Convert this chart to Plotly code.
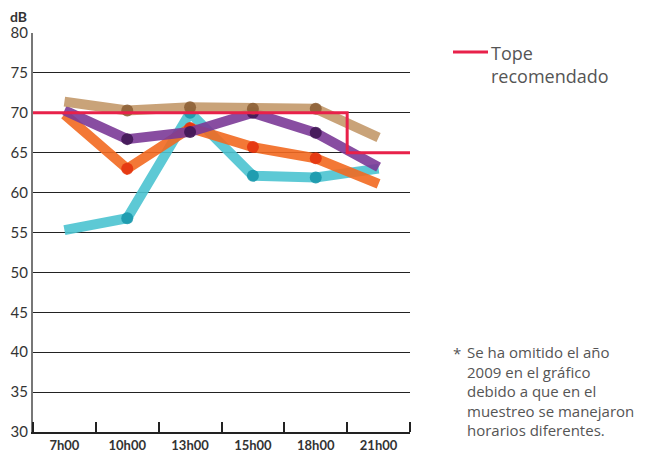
import plotly.graph_objects as go

# horas del muestreo
horas = ["7h00", "10h00", "13h00", "15h00", "18h00", "21h00"]

# niveles de ruido (dB) por serie
serie_tan = [71.4, 70.3, 70.7, 70.5, 70.5, 66.9]
serie_morado = [70.3, 66.7, 67.6, 70.0, 67.5, 63.2]
serie_naranja = [69.8, 63.0, 68.1, 65.7, 64.3, 61.1]
serie_celeste = [55.3, 56.8, 70.0, 62.1, 61.9, 63.0]

# tope recomendado (escalon entre 18h00 y 21h00)
tope_x = [-0.5, 4.5, 4.5, 5.5]
tope_y = [70, 70, 65, 65]

nota = ("Se ha omitido el año<br>2009 en el gráfico<br>debido a que en el"
        "<br>muestreo se manejaron<br>horarios diferentes.")

series = [
    (serie_celeste, "#4cc4d1", "#1696aa"),
    (serie_naranja, "#f26a21", "#e4300c"),
    (serie_morado, "#7c3a97", "#3d1452"),
    (serie_tan, "#c49a6b", "#8a5d33"),
]

# la pagina tiene 8px de margen en el body, se compensa aqui
W, H = 638, 444
L, R, T, B = 25, 236, 25, 20
PW, PH = W - L - R, H - T - B


def px(x):
    return (x - 33) / PW


def py(y):
    return (432 - y) / PH


xs = list(range(len(horas)))
fig = go.Figure()
for vals, col, dark in series:
    fig.add_trace(go.Scatter(
        x=xs, y=vals, mode="lines",
        line=dict(color=col, width=10),
        opacity=0.9, showlegend=False, hoverinfo="skip",
    ))
    fig.add_trace(go.Scatter(
        x=xs[1:5], y=vals[1:5], mode="markers",
        marker=dict(color=dark, size=12),
        opacity=0.85, showlegend=False,
    ))

fig.add_trace(go.Scatter(
    x=tope_x, y=tope_y, mode="lines",
    line=dict(color="#e8214a", width=3),
    showlegend=False, name="Tope recomendado",
))

font = "Lato"
fig.update_layout(
    width=W, height=H,
    margin=dict(l=L, r=R, t=T, b=B),
    paper_bgcolor="white", plot_bgcolor="white",
    font=dict(family=font, color="#333"),
    xaxis=dict(
        range=[-0.5, 5.5], tickvals=xs, ticktext=horas, automargin=False,
        showgrid=False, zeroline=False, ticks="",
        showline=True, linecolor="#222", linewidth=2,
        tickfont=dict(size=13, color="#333", family=font, weight="bold"),
        minor=dict(tick0=-0.5, dtick=1, ticks="inside", ticklen=10,
                   tickcolor="#222", tickwidth=2, showgrid=False),
    ),
    yaxis=dict(
        range=[30, 80], dtick=5, showgrid=True, gridcolor="#222", gridwidth=1,
        zeroline=False, showline=True, linecolor="#777", linewidth=2,
        automargin=False, ticks="", tickfont=dict(size=15, color="#333"),
    ),
    shapes=[dict(type="line", xref="paper", yref="paper",
                 x0=px(453), x1=px(488), y0=py(52), y1=py(52),
                 line=dict(color="#e8214a", width=3))],
    annotations=[
        dict(text="<b>dB</b>", xref="paper", yref="paper",
             x=px(8), y=py(16), xanchor="left", yanchor="middle",
             showarrow=False, font=dict(size=14, color="#333")),
        dict(text="Tope<br>recomendado", xref="paper", yref="paper",
             x=px(489), y=py(39), xanchor="left", yanchor="top",
             align="left", showarrow=False,
             font=dict(size=18, color="#555", family="Open Sans")),
        dict(text="*", xref="paper", yref="paper",
             x=px(451), y=py(341), xanchor="left", yanchor="top",
             showarrow=False, font=dict(size=15, color="#555",
                                        family="Open Sans")),
        dict(text=nota, xref="paper", yref="paper",
             x=px(465), y=py(340), xanchor="left", yanchor="top",
             align="left", showarrow=False,
             font=dict(size=15, color="#555", family="Open Sans")),
    ],
)

fig.write_html("out.html")
